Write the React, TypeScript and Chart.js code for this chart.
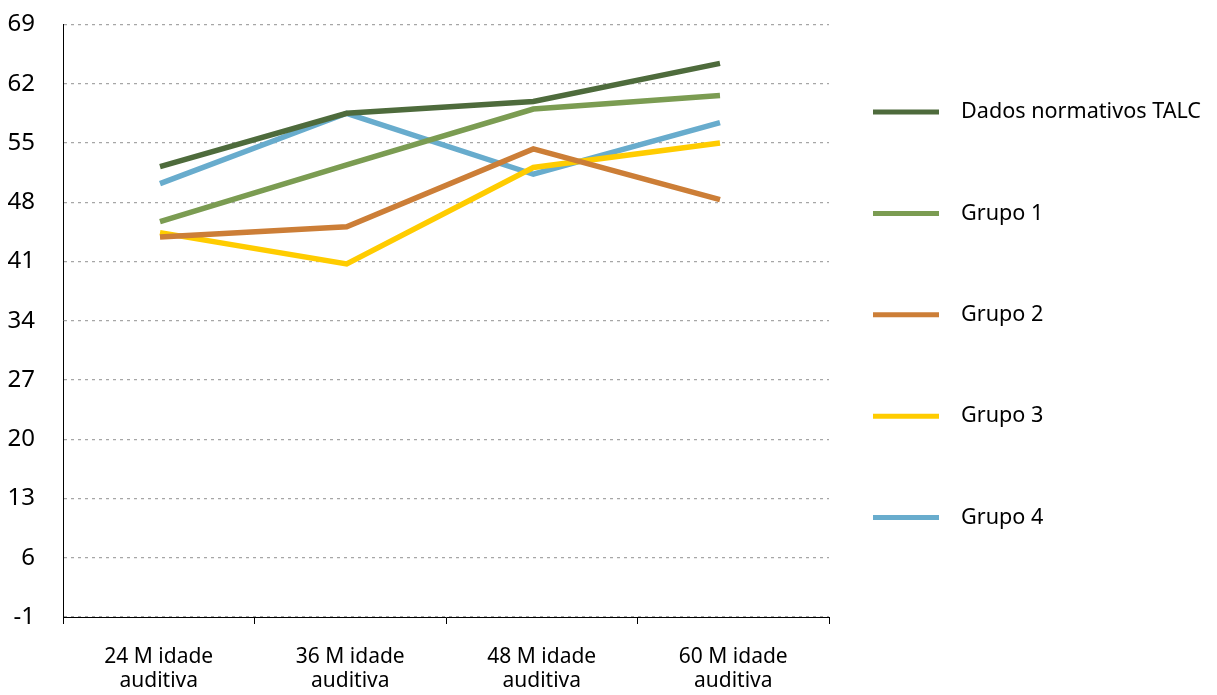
import React, { useEffect, useRef } from "react";
import { Chart, registerables } from "chart.js";

Chart.register(...registerables);

const categories: string[][] = [
  ["24 M idade", "auditiva"],
  ["36 M idade", "auditiva"],
  ["48 M idade", "auditiva"],
  ["60 M idade", "auditiva"],
];

const seriesNames = ["Dados normativos TALC", "Grupo 1", "Grupo 2", "Grupo 3", "Grupo 4"];
const dadosNormativos = [52.2, 58.5, 59.9, 64.4];
const grupo1 = [45.7, 52.4, 59.0, 60.6];
const grupo2 = [43.9, 45.1, 54.3, 48.3];
const grupo3 = [44.4, 40.7, 52.1, 55.0];
const grupo4 = [50.2, 58.5, 51.3, 57.4];
const seriesValues = [dadosNormativos, grupo1, grupo2, grupo3, grupo4];
const seriesColors = ["#4E6B3C", "#7B9C52", "#CC7E37", "#FFCC00", "#68ACCD"];

const yMin = -1;
const yMax = 69;
const yStep = 7;

const FONT = '"Noto Sans", "Open Sans", sans-serif';

const sideLegend = {
  id: "sideLegend",
  afterDraw(chart: any) {
    const ctx = chart.ctx;
    const area = chart.chartArea;
    const x0 = area.right + 44;
    const x1 = x0 + 66;
    const tx = x1 + 22;
    const top = 104;
    const step = 101.4;
    ctx.save();
    chart.data.datasets.forEach((ds: any, i: number) => {
      const y = top + i * step;
      ctx.strokeStyle = ds.borderColor;
      ctx.lineWidth = 5;
      ctx.beginPath();
      ctx.moveTo(x0, y);
      ctx.lineTo(x1, y);
      ctx.stroke();
      ctx.fillStyle = "#000";
      ctx.font = `21.6px ${FONT}`;
      ctx.textBaseline = "middle";
      ctx.textAlign = "left";
      ctx.fillText(ds.label, tx, y);
    });
    ctx.restore();
  },
};

export default function App() {
  const ref = useRef<HTMLCanvasElement | null>(null);

  useEffect(() => {
    if (!ref.current) return;
    const chart = new Chart(ref.current, {
      type: "line",
      data: {
        labels: categories,
        datasets: seriesNames.map((name, i) => ({
          label: name,
          data: seriesValues[i].map((v, j) => ({ x: j, y: v })),
          borderColor: seriesColors[i],
          backgroundColor: seriesColors[i],
          borderWidth: 5.5,
          pointRadius: 0,
          pointHoverRadius: 0,
          tension: 0,
          xAxisID: "xd",
          yAxisID: "y",
        })),
      },
      options: {
        animation: false,
        responsive: true,
        maintainAspectRatio: false,
        layout: { padding: { top: 16, right: 380, left: 0, bottom: 0 } },
        plugins: {
          legend: { display: false },
          tooltip: { enabled: false },
        },
        scales: {
          x: {
            type: "category",
            offset: true,
            grid: {
              offset: true,
              drawOnChartArea: false,
              drawTicks: true,
              tickLength: 7,
              color: "#000",
            },
            border: { display: true, color: "#000", width: 1 },
            ticks: {
              color: "#000",
              font: { family: FONT, size: 21, lineHeight: 1.14 },
              padding: 21,
              maxRotation: 0,
              autoSkip: false,
            },
            afterFit: (s: any) => {
              s.height = 78;
            },
          },
          xd: {
            type: "linear",
            display: false,
            min: -0.5196,
            max: 3.584,
          },
          y: {
            type: "linear",
            min: yMin,
            max: yMax,
            ticks: {
              stepSize: yStep,
              color: "#000",
              font: { family: FONT, size: 24 },
              padding: 2,
            },
            grid: {
              color: "#A6A6A6",
              lineWidth: 1.3,
              drawTicks: true,
              tickLength: 26,
              tickColor: "rgba(0,0,0,0)",
            },
            border: { display: true, color: "#000", width: 1, dash: [3, 4] },
            afterFit: (s: any) => {
              s.width = 55;
            },
          },
        },
      },
      plugins: [sideLegend],
    });
    return () => chart.destroy();
  }, []);

  return (
    <div style={{ position: "relative", width: 1201, height: 687, marginBottom: -8 }}>
      <canvas ref={ref} />
    </div>
  );
}
